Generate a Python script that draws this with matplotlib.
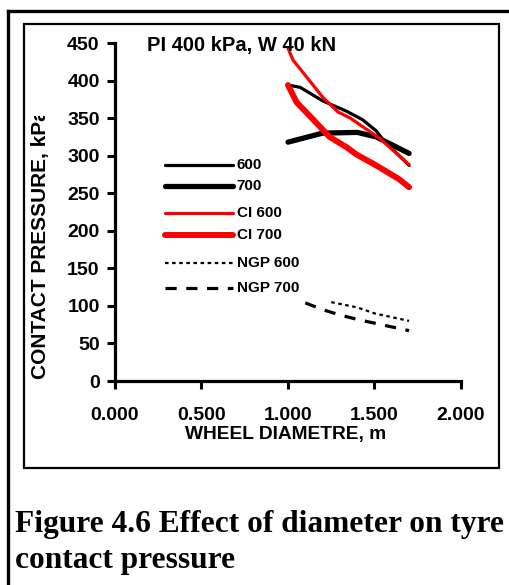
import matplotlib
matplotlib.use('Agg')
import matplotlib.pyplot as plt
from matplotlib.patches import Rectangle

# ---- data ----
diam_600 = [1.0, 1.07, 1.2, 1.34, 1.43, 1.51, 1.55, 1.7]
p_600 = [394, 391, 373, 359, 348, 333, 321, 287]
diam_700 = [1.0, 1.1, 1.2, 1.4, 1.51, 1.7]
p_700 = [318, 324, 330, 331, 325, 303]
diam_ci600 = [1.0, 1.03, 1.11, 1.2, 1.29, 1.36, 1.53, 1.7]
p_ci600 = [443, 427, 404, 378, 358, 350, 323, 288]
diam_ci700 = [1.0, 1.05, 1.15, 1.24, 1.34, 1.4, 1.51, 1.64, 1.7]
p_ci700 = [394, 371, 347, 325, 311, 301, 287, 269, 258]
diam_ngp600 = [1.25, 1.4, 1.5, 1.6, 1.7]
p_ngp600 = [105, 98, 90, 85, 80]
diam_ngp700 = [1.1, 1.2, 1.3, 1.4, 1.5, 1.6, 1.7]
p_ngp700 = [104, 95, 88, 82, 77, 72, 67]

series_labels = ["600", "700", "CI 600", "CI 700", "NGP 600", "NGP 700"]
x_ticks = [0.0, 0.5, 1.0, 1.5, 2.0]
x_ticklabels = ["0.000", "0.500", "1.000", "1.500", "2.000"]
y_ticks = [0, 50, 100, 150, 200, 250, 300, 350, 400, 450]

plt.rcParams['font.family'] = ['Liberation Sans', 'DejaVu Sans']

W, H = 510, 585
fig = plt.figure(figsize=(W / 100, H / 100), dpi=100)
fig.patch.set_facecolor('white')

# overlay in pixel coordinates for frame and caption
ov = fig.add_axes([0, 0, 1, 1], zorder=0)
ov.set_xlim(0, W)
ov.set_ylim(H, 0)
ov.axis('off')

# outer frame (extends past right/bottom edges)
ov.plot([8, W + 5], [11, 11], color='black', lw=2.4, solid_capstyle='projecting')
ov.plot([8, 8], [11, H + 5], color='black', lw=2.4, solid_capstyle='projecting')
# inner chart box
ov.add_patch(Rectangle((24, 24), 475, 444, fill=False, edgecolor='black', lw=1.6))

# caption
ov.text(15, 532, "Figure 4.6 Effect of diameter on tyre", family=['Liberation Serif'],
        fontweight='bold', fontsize=22.6, ha='left', va='baseline')
ov.text(15, 568, "contact pressure", family=['Liberation Serif'],
        fontweight='bold', fontsize=22.6, ha='left', va='baseline')

# y-axis label (clipped at top as in the reference)
yl = ov.text(41, 379, "CONTACT PRESSURE, kPa", rotation=90, fontweight='bold',
             fontsize=15, ha='center', va='bottom', clip_on=True)
clip = Rectangle((0, 116), 100, 300, transform=ov.transData)
yl.set_clip_path(clip)

# x-axis label
ov.text(286, 434, "WHEEL DIAMETRE, m", fontweight='bold', fontsize=13.8,
        ha='center', va='center')

# ---- main axes ----
left, right, top, bottom = 115, 461, 43, 381
ax = fig.add_axes([left / W, 1 - bottom / H, (right - left) / W, (bottom - top) / H], zorder=2)
ax.patch.set_alpha(0)
ax.set_xlim(0, 2)
ax.set_ylim(0, 450)
for s in ['top', 'right']:
    ax.spines[s].set_visible(False)
for s in ['left', 'bottom']:
    ax.spines[s].set_linewidth(2.3)
ax.set_xticks(x_ticks)
ax.set_xticklabels(x_ticklabels)
ax.set_yticks(y_ticks)
ax.tick_params(axis='both', direction='out', width=2.2, length=6, labelsize=14)
ax.tick_params(axis='x', pad=13)
ax.tick_params(axis='y', pad=5)
for lab in ax.get_xticklabels() + ax.get_yticklabels():
    lab.set_fontweight('bold')

styles = [
    dict(color='black', lw=2.3, ls='-'),
    dict(color='black', lw=3.8, ls='-'),
    dict(color='#ff0000', lw=2.3, ls='-'),
    dict(color='#ff0000', lw=4.3, ls='-'),
    dict(color='black', lw=1.6, ls=(0, (1.6, 1.6))),
    dict(color='black', lw=2.3, ls=(0, (3.5, 3))),
]
data = [(diam_600, p_600), (diam_700, p_700), (diam_ci600, p_ci600),
        (diam_ci700, p_ci700), (diam_ngp600, p_ngp600), (diam_ngp700, p_ngp700)]

for (xs, ys), st in zip(data, styles):
    ax.plot(xs, ys, color=st['color'], lw=st['lw'], ls=st['ls'],
            solid_capstyle='round', solid_joinstyle='round', clip_on=False)

# manual legend
leg_y = [0.639, 0.577, 0.497, 0.432, 0.349, 0.275]
for yy, lab, st in zip(leg_y, series_labels, styles):
    ax.plot([0.1445, 0.341], [yy, yy], transform=ax.transAxes, color=st['color'],
            lw=st['lw'], ls=st['ls'], solid_capstyle='round', clip_on=False)
    ax.text(0.352, yy, lab, transform=ax.transAxes, fontsize=11, fontweight='bold',
            ha='left', va='center')

# chart title
ax.text(0.092, 0.992, "PI 400 kPa, W 40 kN", transform=ax.transAxes, fontsize=14.5,
        fontweight='bold', ha='left', va='center')

fig.savefig('out.png', dpi=100, facecolor='white')
